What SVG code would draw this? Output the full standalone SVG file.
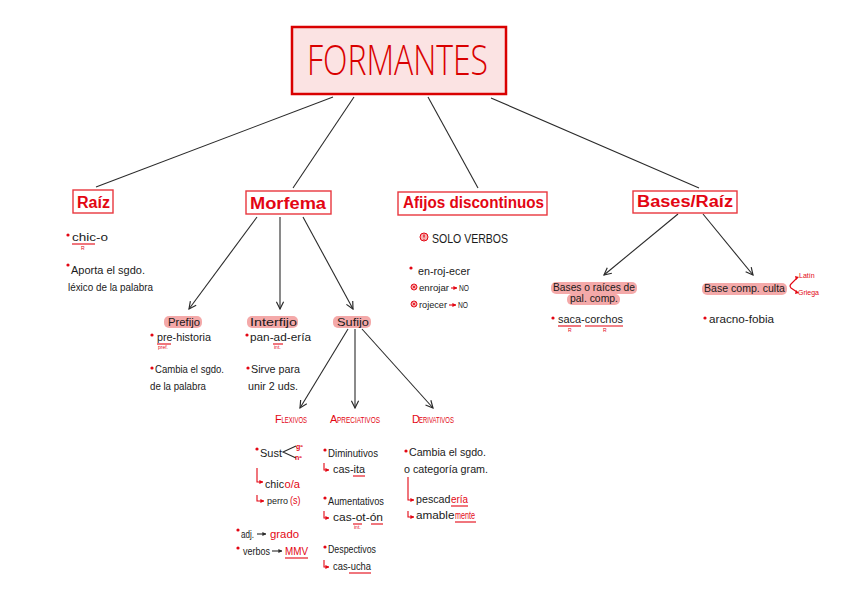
<svg xmlns="http://www.w3.org/2000/svg" width="848" height="599" viewBox="0 0 848 599">
<defs>
<style>
.t{font-family:"Liberation Sans",Arial,sans-serif;font-size:11.5px;fill:#1a1a1a}
.s{font-size:10.5px}
.r{fill:#e30613}
.h{font-family:"Liberation Sans",Arial,sans-serif;font-weight:bold;font-size:16px;fill:#e30613}
.box{fill:#fff;stroke:#e8373e;stroke-width:1.4}
.hl{fill:#f08c8c;opacity:.75}
.sc{font-family:"Liberation Sans",Arial,sans-serif;fill:#e30613;font-size:9px}
.tiny{font-family:"Liberation Sans",Arial,sans-serif;fill:#e30613;font-size:5px}
.ul{stroke:#e30613;stroke-width:1.1;fill:none}
.ln{stroke:#2a2a2a;stroke-width:1.1;fill:none}
.rl{stroke:#e30613;stroke-width:1.1;fill:none}
.dot{fill:#e30613}
</style>
<marker id="ah" viewBox="0 0 10 10" refX="9" refY="5" markerWidth="9" markerHeight="9" markerUnits="userSpaceOnUse" orient="auto"><path d="M1,1 L9,5 L1,9" fill="none" stroke="#2a2a2a" stroke-width="1.3"/></marker>
<marker id="ar" viewBox="0 0 10 10" refX="9" refY="5" markerWidth="4" markerHeight="4" markerUnits="userSpaceOnUse" orient="auto"><path d="M0,0 L10,5 L0,10 Z" fill="#e30613"/></marker>
<marker id="ak" viewBox="0 0 10 10" refX="9" refY="5" markerWidth="4" markerHeight="4" markerUnits="userSpaceOnUse" orient="auto"><path d="M0,0 L10,5 L0,10 Z" fill="#2a2a2a"/></marker>
</defs>
<rect width="848" height="599" fill="#fff"/>

<g id="connectors">
<line class="ln" x1="333" y1="97" x2="96" y2="187"/>
<line class="ln" x1="354" y1="97" x2="293" y2="188"/>
<line class="ln" x1="428" y1="97" x2="478" y2="188"/>
<line class="ln" x1="491" y1="98" x2="699" y2="188"/>
<line class="ln" x1="257" y1="217" x2="189" y2="309" marker-end="url(#ah)"/>
<line class="ln" x1="280" y1="217" x2="280" y2="309" marker-end="url(#ah)"/>
<line class="ln" x1="303" y1="217" x2="353" y2="309" marker-end="url(#ah)"/>
<line class="ln" x1="348" y1="329" x2="300" y2="408" marker-end="url(#ah)"/>
<line class="ln" x1="355" y1="329" x2="355" y2="408" marker-end="url(#ah)"/>
<line class="ln" x1="362" y1="329" x2="433" y2="408" marker-end="url(#ah)"/>
<line class="ln" x1="678" y1="214" x2="604" y2="275" marker-end="url(#ah)"/>
<line class="ln" x1="703" y1="214" x2="753" y2="275" marker-end="url(#ah)"/>
</g>

<g id="formantes">
<rect x="292" y="27" width="214" height="67" fill="#fbe3e3" stroke="#d90000" stroke-width="2.5"/>
<text x="307" y="75" font-family="'Open Sans','Liberation Sans',sans-serif" font-weight="300" font-size="42" fill="#d90000" textLength="181" lengthAdjust="spacingAndGlyphs">FORMANTES</text>
</g>

<g id="raiz">
<rect class="box" x="73" y="190" width="40" height="23"/>
<text class="h" x="77" y="208" textLength="33" lengthAdjust="spacingAndGlyphs">Raíz</text>
<circle class="dot" cx="68" cy="235" r="1.6"/>
<text class="t" x="72" y="241" textLength="36" lengthAdjust="spacingAndGlyphs">chic-o</text>
<line class="ul" x1="72" y1="244" x2="95" y2="244"/>
<text class="tiny" x="81" y="250">R</text>
<circle class="dot" cx="68" cy="265" r="1.6"/>
<text class="t s" x="71" y="274" textLength="74" lengthAdjust="spacingAndGlyphs">Aporta el sgdo.</text>
<text class="t s" x="68" y="291" textLength="85" lengthAdjust="spacingAndGlyphs">léxico de la palabra</text>
</g>

<g id="morfema">
<rect class="box" x="246" y="191" width="85" height="23"/>
<text class="h" x="250" y="209" textLength="76" lengthAdjust="spacingAndGlyphs">Morfema</text>
</g>

<g id="prefijo">
<rect class="hl" x="164" y="316" width="38" height="12" rx="5"/>
<text class="t" x="168" y="326" textLength="32" lengthAdjust="spacingAndGlyphs">Prefijo</text>
<circle class="dot" cx="152" cy="335" r="1.6"/>
<text class="t" x="157" y="341" textLength="54" lengthAdjust="spacingAndGlyphs">pre-historia</text>
<line class="ul" x1="157" y1="344" x2="171" y2="344"/>
<text class="tiny" x="158" y="349">pref.</text>
<circle class="dot" cx="152" cy="368" r="1.6"/>
<text class="t s" x="155" y="373" textLength="69" lengthAdjust="spacingAndGlyphs">Cambia el sgdo.</text>
<text class="t s" x="150" y="390" textLength="56" lengthAdjust="spacingAndGlyphs">de la palabra</text>
</g>

<g id="interfijo">
<rect class="hl" x="247" y="316" width="51" height="12" rx="5"/>
<text class="t" x="250" y="326" textLength="47" lengthAdjust="spacingAndGlyphs">Interfijo</text>
<circle class="dot" cx="247" cy="335" r="1.6"/>
<text class="t" x="250" y="341" textLength="61" lengthAdjust="spacingAndGlyphs">pan-ad-ería</text>
<line class="ul" x1="273" y1="344" x2="283" y2="344"/>
<text class="tiny" x="274" y="349">int.</text>
<circle class="dot" cx="248" cy="368" r="1.6"/>
<text class="t" x="251" y="373" textLength="49" lengthAdjust="spacingAndGlyphs">Sirve para</text>
<text class="t" x="248" y="390" textLength="50" lengthAdjust="spacingAndGlyphs">unir 2 uds.</text>
</g>

<g id="sufijo">
<rect class="hl" x="333" y="316" width="38" height="12" rx="5"/>
<text class="t" x="337" y="326" textLength="32" lengthAdjust="spacingAndGlyphs">Sufijo</text>
</g>

<g id="flexivos">
<text class="sc" x="275" y="423" style="font-size:11px">F</text>
<text class="sc" x="281.5" y="423" textLength="25.5" lengthAdjust="spacingAndGlyphs">LEXIVOS</text>
<circle class="dot" cx="257" cy="449" r="1.6"/>
<text class="t" x="260" y="457" textLength="22" lengthAdjust="spacingAndGlyphs">Sust</text>
<polyline class="ln" points="296,446 283,452 296,458"/>
<text class="tiny" x="296" y="449" style="font-size:7px;font-weight:bold">gº</text>
<text class="tiny" x="295" y="460" style="font-size:7px;font-weight:bold">nº</text>
<polyline class="rl" points="257,468 257,482 263,482" marker-end="url(#ar)"/>
<text class="t" x="265" y="488" textLength="19" lengthAdjust="spacingAndGlyphs">chic</text>
<text class="t r" x="284.5" y="488" textLength="15.5" lengthAdjust="spacingAndGlyphs">o/a</text>
<polyline class="rl" points="257,495 257,501 264,501" marker-end="url(#ar)"/>
<text class="t" x="267" y="504" style="font-size:9.5px" textLength="21" lengthAdjust="spacingAndGlyphs">perro</text>
<text class="t s r" x="290" y="504" textLength="10.5" lengthAdjust="spacingAndGlyphs">(s)</text>
<circle class="dot" cx="238" cy="530" r="1.6"/>
<text class="t s" x="241" y="538" textLength="13" lengthAdjust="spacingAndGlyphs">adj.</text>
<line class="ln" x1="257" y1="534" x2="266" y2="534" marker-end="url(#ak)"/>
<text class="t s r" x="270" y="538" textLength="29" lengthAdjust="spacingAndGlyphs">grado</text>
<circle class="dot" cx="238" cy="548" r="1.6"/>
<text class="t s" x="243" y="555" textLength="27" lengthAdjust="spacingAndGlyphs">verbos</text>
<line class="ln" x1="272" y1="551" x2="282" y2="551" marker-end="url(#ak)"/>
<text class="t s r" x="285" y="555" textLength="23" lengthAdjust="spacingAndGlyphs">MMV</text>
<line class="ul" x1="285" y1="558" x2="308" y2="558"/>
</g>

<g id="apreciativos">
<text class="sc" x="330" y="423" style="font-size:11px">A</text>
<text class="sc" x="337" y="423" textLength="43" lengthAdjust="spacingAndGlyphs">PRECIATIVOS</text>
<circle class="dot" cx="325" cy="450" r="1.6"/>
<text class="t s" x="328" y="457" textLength="50" lengthAdjust="spacingAndGlyphs">Diminutivos</text>
<polyline class="rl" points="324,463 324,470 329,470" marker-end="url(#ar)"/>
<text class="t s" x="333" y="473" textLength="32" lengthAdjust="spacingAndGlyphs">cas-ita</text>
<line class="ul" x1="353" y1="476" x2="365" y2="476"/>
<circle class="dot" cx="325" cy="498" r="1.6"/>
<text class="t s" x="328" y="505" textLength="56" lengthAdjust="spacingAndGlyphs">Aumentativos</text>
<polyline class="rl" points="324,511 324,518 329,518" marker-end="url(#ar)"/>
<text class="t s" x="333" y="521" textLength="50" lengthAdjust="spacingAndGlyphs">cas-ot-ón</text>
<line class="ul" x1="353" y1="524" x2="362" y2="524"/>
<line class="ul" x1="371" y1="524" x2="383" y2="524"/>
<text class="tiny" x="354" y="529">int.</text>
<circle class="dot" cx="325" cy="547" r="1.6"/>
<text class="t s" x="328" y="553" textLength="48" lengthAdjust="spacingAndGlyphs">Despectivos</text>
<polyline class="rl" points="324,560 324,567 329,567" marker-end="url(#ar)"/>
<text class="t s" x="333" y="570" textLength="38" lengthAdjust="spacingAndGlyphs">cas-ucha</text>
<line class="ul" x1="349" y1="573" x2="371" y2="573"/>
</g>

<g id="derivativos">
<text class="sc" x="412" y="423" style="font-size:11px">D</text>
<text class="sc" x="419" y="423" textLength="35" lengthAdjust="spacingAndGlyphs">ERIVATIVOS</text>
<circle class="dot" cx="406" cy="451" r="1.6"/>
<text class="t s" x="409" y="456" textLength="77" lengthAdjust="spacingAndGlyphs">Cambia el sgdo.</text>
<text class="t s" x="404" y="473" textLength="84" lengthAdjust="spacingAndGlyphs">o categoría gram.</text>
<polyline class="rl" points="408,477 408,500 414,500" marker-end="url(#ar)"/>
<text class="t s" x="416" y="503" textLength="34.5" lengthAdjust="spacingAndGlyphs">pescad</text>
<text class="t s r" x="451" y="503" textLength="17" lengthAdjust="spacingAndGlyphs">ería</text>
<line class="ul" x1="451" y1="506" x2="468" y2="506"/>
<polyline class="rl" points="408,511 408,517 414,517" marker-end="url(#ar)"/>
<text class="t s" x="416" y="519" textLength="38.5" lengthAdjust="spacingAndGlyphs">amable</text>
<text class="t s r" x="455" y="519" textLength="20" lengthAdjust="spacingAndGlyphs">mente</text>
<line class="ul" x1="455" y1="522" x2="476" y2="522"/>
</g>

<g id="afijos">
<rect class="box" x="398" y="192" width="149" height="23"/>
<text class="h" x="403" y="208" textLength="141" lengthAdjust="spacingAndGlyphs">Afijos discontinuos</text>
<circle cx="424" cy="237" r="4" fill="#f7b3b3" stroke="#e30613" stroke-width="1"/>
<line x1="424" y1="234.5" x2="424" y2="237.5" stroke="#e30613" stroke-width="1.2"/>
<circle cx="424" cy="239.3" r="0.6" fill="#e30613"/>
<text class="t" x="432" y="243" style="font-size:13px" textLength="76" lengthAdjust="spacingAndGlyphs">SOLO VERBOS</text>
<circle class="dot" cx="411" cy="268" r="1.6"/>
<text class="t s" x="418" y="275" textLength="52" lengthAdjust="spacingAndGlyphs">en-roj-ecer</text>
<circle cx="414" cy="287" r="3" fill="#f7b3b3" stroke="#e30613" stroke-width="0.9"/>
<line x1="412.5" y1="285.5" x2="415.5" y2="288.5" stroke="#e30613" stroke-width="0.8"/>
<line x1="415.5" y1="285.5" x2="412.5" y2="288.5" stroke="#e30613" stroke-width="0.8"/>
<text class="t" x="419" y="291" style="font-size:9.5px" textLength="30" lengthAdjust="spacingAndGlyphs">enrojar</text>
<line class="rl" x1="451" y1="288" x2="457" y2="288" marker-end="url(#ar)"/>
<text class="t" x="459" y="291" style="font-size:9.5px" textLength="10" lengthAdjust="spacingAndGlyphs">NO</text>
<circle cx="414" cy="304" r="3" fill="#f7b3b3" stroke="#e30613" stroke-width="0.9"/>
<line x1="412.5" y1="302.5" x2="415.5" y2="305.5" stroke="#e30613" stroke-width="0.8"/>
<line x1="415.5" y1="302.5" x2="412.5" y2="305.5" stroke="#e30613" stroke-width="0.8"/>
<text class="t" x="419" y="308" style="font-size:9.5px" textLength="28" lengthAdjust="spacingAndGlyphs">rojecer</text>
<line class="rl" x1="449" y1="305" x2="456" y2="305" marker-end="url(#ar)"/>
<text class="t" x="458" y="308" style="font-size:9.5px" textLength="10" lengthAdjust="spacingAndGlyphs">NO</text>
</g>

<g id="bases">
<rect class="box" x="633" y="191" width="104" height="22"/>
<text class="h" x="637" y="207" textLength="96" lengthAdjust="spacingAndGlyphs">Bases/Raíz</text>
</g>

<g id="bases-palcomp">
<rect class="hl" x="551" y="282" width="86" height="12" rx="5"/>
<rect class="hl" x="567" y="294" width="53" height="11" rx="5"/>
<text class="t s" x="553" y="291" textLength="82" lengthAdjust="spacingAndGlyphs">Bases o raíces de</text>
<text class="t s" x="570" y="302" textLength="48" lengthAdjust="spacingAndGlyphs">pal. comp.</text>
<circle class="dot" cx="553" cy="318" r="1.6"/>
<text class="t s" x="558" y="323" textLength="65" lengthAdjust="spacingAndGlyphs">saca-corchos</text>
<line class="ul" x1="558" y1="326" x2="581" y2="326"/>
<line class="ul" x1="585" y1="326" x2="623" y2="326"/>
<text class="tiny" x="568" y="332">R</text>
<text class="tiny" x="603" y="332">R</text>
</g>

<g id="base-culta">
<rect class="hl" x="702" y="283" width="85" height="12" rx="5"/>
<text class="t s" x="704" y="292" textLength="81" lengthAdjust="spacingAndGlyphs">Base comp. culta</text>
<path class="rl" d="M797,278 L791,284 Q789,286 791,288 L797,292"/>
<path d="M795,276 L799,277 L796,280 Z M795,294 L799,293 L796,290 Z" fill="#e30613"/>
<text class="tiny" x="799" y="278" style="font-size:7px">Latín</text>
<text class="tiny" x="798" y="295" style="font-size:7px">Griega</text>
<circle class="dot" cx="705" cy="318" r="1.6"/>
<text class="t s" x="709" y="323" textLength="65" lengthAdjust="spacingAndGlyphs">aracno-fobia</text>
</g>
</svg>
